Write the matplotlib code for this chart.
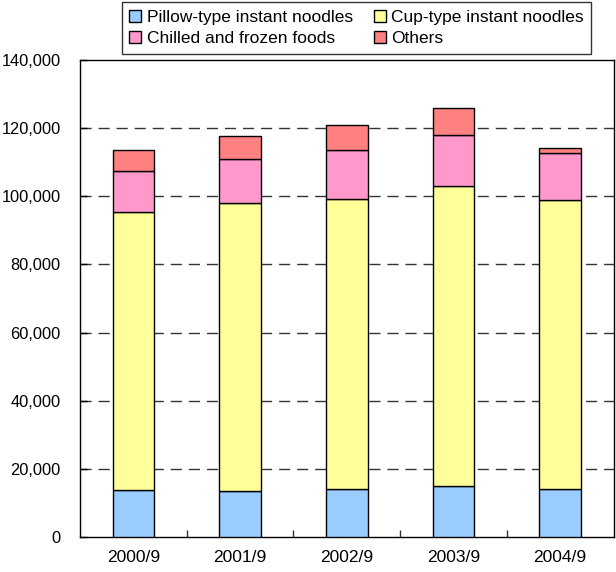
import matplotlib
matplotlib.use("Agg")
import matplotlib.pyplot as plt
import numpy as np
from matplotlib.ticker import FuncFormatter, FixedLocator

plt.rcParams['font.family'] = ['Liberation Sans', 'DejaVu Sans']

categories = ["2000/9", "2001/9", "2002/9", "2003/9", "2004/9"]
series_names = ["Pillow-type instant noodles", "Cup-type instant noodles",
                "Chilled and frozen foods", "Others"]
pillow = [13700, 13500, 14100, 14900, 14100]
cup = [81800, 84600, 85000, 88100, 84800]
chilled = [11900, 12900, 14500, 15000, 13900]
others = [6200, 6800, 7200, 7900, 1500]
colors = ["#99CCFF", "#FFFF99", "#FF99CC", "#FF8080"]

fig = plt.figure(figsize=(6.16, 5.72), dpi=100)
ax = fig.add_axes([80/616, 35/572, (613.5-80)/616, (537-60)/572])

x = np.arange(len(categories))
bottom = np.zeros(len(categories))
handles = []
for vals, col, name in zip([pillow, cup, chilled, others], colors, series_names):
    h = ax.bar(x, vals, width=0.39, bottom=bottom, color=col, edgecolor="black",
               linewidth=1.0, label=name, zorder=3)
    handles.append(h)
    bottom += np.array(vals)

ax.set_xlim(-0.5, len(categories) - 0.5)
ax.set_ylim(0, 140000)
ax.set_yticks(np.arange(0, 140001, 20000))
ax.yaxis.set_major_formatter(FuncFormatter(lambda v, p: f"{int(v):,}"))
ax.set_xticks(x)
ax.set_xticklabels(categories)
ax.xaxis.set_minor_locator(FixedLocator(np.arange(0.5, len(categories) - 0.5, 1)))
ax.tick_params(axis='x', which='major', length=0, pad=9, labelsize=12.5)
ax.tick_params(axis='x', which='minor', length=5, direction='in', width=1, color="#333333")
ax.tick_params(axis='y', which='major', length=5, direction='in', width=1, pad=14, labelsize=11.8)

for y in np.arange(20000, 140000, 20000):
    ax.axhline(y, color="#333333", linewidth=1.0, linestyle=(0, (8, 5)), zorder=1)

for s in ax.spines.values():
    s.set_linewidth(1.0)
    s.set_color("black")

order = [0, 2, 1, 3]
leg = fig.legend([handles[i] for i in order], [series_names[i] for i in order],
                 loc="upper center", bbox_to_anchor=((121+592)/2/616, 0.9965),
                 ncol=2, fontsize=12.5, frameon=True, fancybox=False,
                 edgecolor="black", handlelength=0.7, handleheight=0.7,
                 handletextpad=0.3, columnspacing=1.2, borderpad=0.45,
                 labelspacing=0.35, borderaxespad=0)
leg.get_frame().set_linewidth(1.0)

fig.savefig("out.png", dpi=100)
